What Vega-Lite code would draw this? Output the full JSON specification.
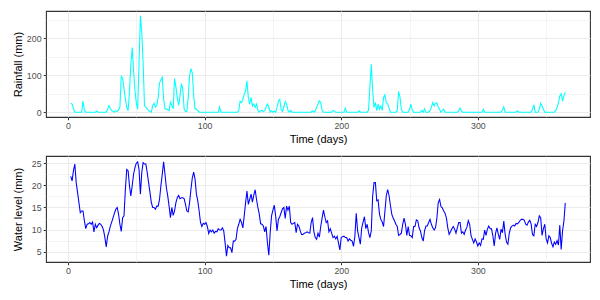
{
 "$schema": "https://vega.github.io/schema/vega-lite/v6.json",
 "padding": {"left": 11, "top": 10, "right": 5, "bottom": 5},
 "spacing": 39,
 "bounds": "flush",
 "config": {
  "view": {"stroke": "#333333", "strokeWidth": 1.1},
  "font": "Liberation Sans",
  "axis": {"domain": false, "tickColor": "#333333", "tickSize": 2.75, "labelFontSize": 8.8, "labelColor": "#4D4D4D", "labelPadding": 2.2, "titleFontSize": 11, "titleFontWeight": "normal", "titleColor": "#000000", "gridColor": "#EBEBEB", "labelOverlap": false, "labelFlush": false}
 },
 "data": {"values": [
{"day":2,"rain":24,"level":22.0},{"day":3,"rain":22,"level":21.0},{"day":4,"rain":10,"level":23.3},{"day":5,"rain":0,"level":24.8},{"day":6,"rain":0,"level":20.6},{"day":7,"rain":0,"level":18.4},{"day":8,"rain":0,"level":16.1},{"day":9,"rain":0,"level":13.8},{"day":10,"rain":0,"level":14.2},
{"day":11,"rain":30,"level":14.2},{"day":12,"rain":5,"level":12.0},{"day":13,"rain":0,"level":10.2},{"day":14,"rain":0,"level":11.2},{"day":15,"rain":0,"level":11.3},{"day":16,"rain":0,"level":11.6},{"day":17,"rain":0,"level":11.2},{"day":18,"rain":0,"level":11.7},{"day":19,"rain":0,"level":9.5},{"day":20,"rain":0,"level":11.2},
{"day":21,"rain":3,"level":10.4},{"day":22,"rain":0,"level":11.0},{"day":23,"rain":0,"level":11.4},{"day":24,"rain":0,"level":11.2},{"day":25,"rain":0,"level":10.7},{"day":26,"rain":0,"level":9.9},{"day":27,"rain":0,"level":8.2},{"day":28,"rain":0,"level":6.1},{"day":29,"rain":8,"level":8.5},{"day":30,"rain":18,"level":9.5},
{"day":31,"rain":10,"level":10.8},{"day":32,"rain":4,"level":11.7},{"day":33,"rain":2,"level":12.7},{"day":34,"rain":0,"level":13.7},{"day":35,"rain":4,"level":14.6},{"day":36,"rain":2,"level":15.0},{"day":37,"rain":6,"level":13.5},{"day":38,"rain":14,"level":11.2},{"day":39,"rain":97,"level":9.6},{"day":40,"rain":92,"level":12.7},
{"day":41,"rain":63,"level":13.1},{"day":42,"rain":36,"level":19.1},{"day":43,"rain":14,"level":23.6},{"day":44,"rain":4,"level":23.3},{"day":45,"rain":56,"level":19.9},{"day":46,"rain":130,"level":17.6},{"day":47,"rain":175,"level":19.9},{"day":48,"rain":114,"level":22.5},{"day":49,"rain":60,"level":24.0},{"day":50,"rain":25,"level":25.0},
{"day":51,"rain":8,"level":25.3},{"day":52,"rain":133,"level":23.6},{"day":53,"rain":261,"level":18.0},{"day":54,"rain":216,"level":22.9},{"day":55,"rain":133,"level":25.1},{"day":56,"rain":18,"level":24.8},{"day":57,"rain":14,"level":24.8},{"day":58,"rain":9,"level":22.9},{"day":59,"rain":4,"level":20.6},{"day":60,"rain":2,"level":18.4},
{"day":61,"rain":0,"level":16.1},{"day":62,"rain":18,"level":15.0},{"day":63,"rain":24,"level":15.0},{"day":64,"rain":14,"level":14.6},{"day":65,"rain":18,"level":15.3},{"day":66,"rain":40,"level":15.3},{"day":67,"rain":79,"level":16.8},{"day":68,"rain":88,"level":19.9},{"day":69,"rain":95,"level":22.5},{"day":70,"rain":36,"level":25.3},
{"day":71,"rain":9,"level":22.5},{"day":72,"rain":9,"level":19.5},{"day":73,"rain":7,"level":17.6},{"day":74,"rain":4,"level":15.3},{"day":75,"rain":27,"level":12.7},{"day":76,"rain":18,"level":15.0},{"day":77,"rain":9,"level":13.2},{"day":78,"rain":91,"level":14.2},{"day":79,"rain":68,"level":16.1},{"day":80,"rain":40,"level":17.2},
{"day":81,"rain":18,"level":17.7},{"day":82,"rain":45,"level":17.0},{"day":83,"rain":77,"level":17.2},{"day":84,"rain":63,"level":17.2},{"day":85,"rain":9,"level":17.0},{"day":86,"rain":2,"level":15.7},{"day":87,"rain":2,"level":14.2},{"day":88,"rain":40,"level":14.0},{"day":89,"rain":100,"level":16.1},{"day":90,"rain":118,"level":19.1},
{"day":91,"rain":106,"level":21.7},{"day":92,"rain":45,"level":23.0},{"day":93,"rain":9,"level":21.4},{"day":94,"rain":9,"level":18.0},{"day":95,"rain":4,"level":16.5},{"day":96,"rain":0,"level":14.2},{"day":97,"rain":0,"level":11.6},{"day":98,"rain":0,"level":10.7},{"day":99,"rain":0,"level":11.4},{"day":100,"rain":0,"level":11.2},
{"day":101,"rain":0,"level":11.6},{"day":102,"rain":0,"level":10.7},{"day":103,"rain":0,"level":9.1},{"day":104,"rain":0,"level":9.9},{"day":105,"rain":0,"level":9.5},{"day":106,"rain":0,"level":9.9},{"day":107,"rain":0,"level":9.2},{"day":108,"rain":0,"level":9.6},{"day":109,"rain":0,"level":9.5},{"day":110,"rain":0,"level":10.2},
{"day":111,"rain":14,"level":9.9},{"day":112,"rain":0,"level":9.9},{"day":113,"rain":0,"level":10.4},{"day":114,"rain":0,"level":9.7},{"day":115,"rain":0,"level":7.0},{"day":116,"rain":0,"level":4.0},{"day":117,"rain":0,"level":6.4},{"day":118,"rain":0,"level":5.9},{"day":119,"rain":0,"level":5.9},{"day":120,"rain":0,"level":4.8},
{"day":121,"rain":0,"level":7.4},{"day":122,"rain":0,"level":7.4},{"day":123,"rain":0,"level":7.8},{"day":124,"rain":0,"level":10.2},{"day":125,"rain":5,"level":11.2},{"day":126,"rain":30,"level":12.3},{"day":127,"rain":26,"level":11.6},{"day":128,"rain":35,"level":10.4},{"day":129,"rain":49,"level":13.1},{"day":130,"rain":58,"level":16.1},
{"day":131,"rain":85,"level":18.7},{"day":132,"rain":40,"level":15.7},{"day":133,"rain":22,"level":16.8},{"day":134,"rain":40,"level":18.0},{"day":135,"rain":17,"level":16.2},{"day":136,"rain":22,"level":17.8},{"day":137,"rain":13,"level":19.0},{"day":138,"rain":22,"level":16.8},{"day":139,"rain":5,"level":15.0},{"day":140,"rain":0,"level":13.5},
{"day":141,"rain":4,"level":11.3},{"day":142,"rain":5,"level":11.2},{"day":143,"rain":2,"level":10.8},{"day":144,"rain":4,"level":9.5},{"day":145,"rain":14,"level":10.7},{"day":146,"rain":22,"level":7.0},{"day":147,"rain":14,"level":4.2},{"day":148,"rain":0,"level":9.3},{"day":149,"rain":4,"level":13.1},{"day":150,"rain":0,"level":14.4},
{"day":151,"rain":3,"level":15.5},{"day":152,"rain":0,"level":13.1},{"day":153,"rain":13,"level":9.7},{"day":154,"rain":30,"level":12.3},{"day":155,"rain":35,"level":12.9},{"day":156,"rain":8,"level":13.8},{"day":157,"rain":2,"level":14.7},{"day":158,"rain":14,"level":15.0},{"day":159,"rain":29,"level":12.5},{"day":160,"rain":22,"level":15.3},
{"day":161,"rain":5,"level":14.4},{"day":162,"rain":0,"level":15.3},{"day":163,"rain":5,"level":11.6},{"day":164,"rain":0,"level":11.2},{"day":165,"rain":0,"level":11.4},{"day":166,"rain":0,"level":11.6},{"day":167,"rain":0,"level":9.3},{"day":168,"rain":0,"level":11.2},{"day":169,"rain":0,"level":10.8},{"day":170,"rain":0,"level":9.7},
{"day":171,"rain":0,"level":8.9},{"day":172,"rain":0,"level":8.9},{"day":173,"rain":0,"level":9.2},{"day":174,"rain":0,"level":9.3},{"day":175,"rain":0,"level":9.5},{"day":176,"rain":0,"level":9.3},{"day":177,"rain":0,"level":9.2},{"day":178,"rain":0,"level":11.6},{"day":179,"rain":4,"level":12.7},{"day":180,"rain":0,"level":9.5},
{"day":181,"rain":4,"level":8.2},{"day":182,"rain":13,"level":7.8},{"day":183,"rain":22,"level":9.2},{"day":184,"rain":31,"level":8.3},{"day":185,"rain":26,"level":10.7},{"day":186,"rain":5,"level":12.6},{"day":187,"rain":0,"level":14.4},{"day":188,"rain":0,"level":12.9},{"day":189,"rain":0,"level":11.6},{"day":190,"rain":0,"level":12.0},
{"day":191,"rain":0,"level":9.5},{"day":192,"rain":0,"level":10.2},{"day":193,"rain":0,"level":9.2},{"day":194,"rain":5,"level":8.2},{"day":195,"rain":3,"level":8.5},{"day":196,"rain":0,"level":7.9},{"day":197,"rain":0,"level":8.5},{"day":198,"rain":0,"level":7.0},{"day":199,"rain":0,"level":5.4},{"day":200,"rain":0,"level":8.2},
{"day":201,"rain":0,"level":8.4},{"day":202,"rain":0,"level":8.5},{"day":203,"rain":11,"level":8.2},{"day":204,"rain":0,"level":8.2},{"day":205,"rain":0,"level":7.4},{"day":206,"rain":0,"level":7.9},{"day":207,"rain":0,"level":7.6},{"day":208,"rain":0,"level":7.4},{"day":209,"rain":0,"level":6.2},{"day":210,"rain":0,"level":8.5},
{"day":211,"rain":0,"level":13.7},{"day":212,"rain":0,"level":9.7},{"day":213,"rain":4,"level":8.2},{"day":214,"rain":0,"level":6.7},{"day":215,"rain":0,"level":10.4},{"day":216,"rain":0,"level":11.7},{"day":217,"rain":0,"level":12.9},{"day":218,"rain":0,"level":10.2},{"day":219,"rain":0,"level":11.2},{"day":220,"rain":5,"level":9.3},
{"day":221,"rain":71,"level":8.2},{"day":222,"rain":130,"level":9.7},{"day":223,"rain":58,"level":17.6},{"day":224,"rain":13,"level":20.6},{"day":225,"rain":26,"level":20.6},{"day":226,"rain":4,"level":16.5},{"day":227,"rain":22,"level":16.7},{"day":228,"rain":8,"level":13.5},{"day":229,"rain":17,"level":12.3},{"day":230,"rain":5,"level":11.7},
{"day":231,"rain":40,"level":10.7},{"day":232,"rain":47,"level":14.2},{"day":233,"rain":26,"level":17.7},{"day":234,"rain":22,"level":19.0},{"day":235,"rain":11,"level":17.7},{"day":236,"rain":0,"level":15.5},{"day":237,"rain":0,"level":13.5},{"day":238,"rain":0,"level":12.6},{"day":239,"rain":0,"level":12.0},{"day":240,"rain":0,"level":11.2},
{"day":241,"rain":4,"level":10.7},{"day":242,"rain":56,"level":8.7},{"day":243,"rain":41,"level":8.9},{"day":244,"rain":8,"level":9.2},{"day":245,"rain":0,"level":11.2},{"day":246,"rain":0,"level":12.6},{"day":247,"rain":0,"level":11.2},{"day":248,"rain":0,"level":8.7},{"day":249,"rain":0,"level":10.7},{"day":250,"rain":8,"level":8.7},
{"day":251,"rain":22,"level":8.6},{"day":252,"rain":5,"level":8.2},{"day":253,"rain":0,"level":10.7},{"day":254,"rain":0,"level":10.7},{"day":255,"rain":0,"level":12.2},{"day":256,"rain":0,"level":12.0},{"day":257,"rain":0,"level":10.4},{"day":258,"rain":0,"level":9.7},{"day":259,"rain":5,"level":8.2},{"day":260,"rain":0,"level":7.4},
{"day":261,"rain":9,"level":9.7},{"day":262,"rain":0,"level":10.8},{"day":263,"rain":0,"level":10.8},{"day":264,"rain":0,"level":11.6},{"day":265,"rain":4,"level":12.3},{"day":266,"rain":13,"level":11.2},{"day":267,"rain":26,"level":10.4},{"day":268,"rain":17,"level":9.9},{"day":269,"rain":24,"level":10.4},{"day":270,"rain":25,"level":12.5},
{"day":271,"rain":14,"level":16.1},{"day":272,"rain":8,"level":16.8},{"day":273,"rain":0,"level":15.2},{"day":274,"rain":4,"level":14.9},{"day":275,"rain":8,"level":14.2},{"day":276,"rain":0,"level":13.7},{"day":277,"rain":0,"level":12.6},{"day":278,"rain":0,"level":10.4},{"day":279,"rain":0,"level":8.9},{"day":280,"rain":0,"level":9.5},
{"day":281,"rain":0,"level":10.2},{"day":282,"rain":0,"level":10.7},{"day":283,"rain":0,"level":10.1},{"day":284,"rain":0,"level":9.2},{"day":285,"rain":0,"level":10.4},{"day":286,"rain":5,"level":11.6},{"day":287,"rain":11,"level":11.6},{"day":288,"rain":3,"level":9.2},{"day":289,"rain":0,"level":9.5},{"day":290,"rain":0,"level":8.9},
{"day":291,"rain":0,"level":9.9},{"day":292,"rain":0,"level":10.5},{"day":293,"rain":0,"level":12.0},{"day":294,"rain":0,"level":11.2},{"day":295,"rain":0,"level":8.7},{"day":296,"rain":0,"level":7.8},{"day":297,"rain":0,"level":7.0},{"day":298,"rain":0,"level":7.9},{"day":299,"rain":0,"level":7.2},{"day":300,"rain":0,"level":6.3},
{"day":301,"rain":0,"level":7.0},{"day":302,"rain":0,"level":6.4},{"day":303,"rain":0,"level":7.9},{"day":304,"rain":8,"level":7.8},{"day":305,"rain":0,"level":9.9},{"day":306,"rain":0,"level":8.7},{"day":307,"rain":0,"level":10.1},{"day":308,"rain":0,"level":10.8},{"day":309,"rain":0,"level":10.2},{"day":310,"rain":0,"level":10.2},
{"day":311,"rain":0,"level":8.6},{"day":312,"rain":0,"level":6.3},{"day":313,"rain":0,"level":9.2},{"day":314,"rain":0,"level":10.4},{"day":315,"rain":0,"level":8.9},{"day":316,"rain":0,"level":7.8},{"day":317,"rain":0,"level":10.1},{"day":318,"rain":5,"level":9.3},{"day":319,"rain":14,"level":11.9},{"day":320,"rain":0,"level":8.9},
{"day":321,"rain":0,"level":7.2},{"day":322,"rain":0,"level":6.7},{"day":323,"rain":0,"level":9.2},{"day":324,"rain":0,"level":10.4},{"day":325,"rain":0,"level":10.8},{"day":326,"rain":0,"level":11.0},{"day":327,"rain":0,"level":10.8},{"day":328,"rain":0,"level":11.4},{"day":329,"rain":4,"level":11.3},{"day":330,"rain":0,"level":11.6},
{"day":331,"rain":0,"level":12.1},{"day":332,"rain":0,"level":12.3},{"day":333,"rain":0,"level":12.3},{"day":334,"rain":0,"level":12.1},{"day":335,"rain":0,"level":11.2},{"day":336,"rain":0,"level":11.0},{"day":337,"rain":0,"level":11.7},{"day":338,"rain":0,"level":12.1},{"day":339,"rain":0,"level":11.3},{"day":340,"rain":8,"level":8.9},
{"day":341,"rain":20,"level":8.6},{"day":342,"rain":0,"level":11.2},{"day":343,"rain":0,"level":10.7},{"day":344,"rain":0,"level":11.6},{"day":345,"rain":8,"level":13.1},{"day":346,"rain":24,"level":12.7},{"day":347,"rain":17,"level":8.7},{"day":348,"rain":8,"level":10.2},{"day":349,"rain":0,"level":11.2},{"day":350,"rain":0,"level":7.9},
{"day":351,"rain":0,"level":7.0},{"day":352,"rain":0,"level":8.6},{"day":353,"rain":0,"level":8.2},{"day":354,"rain":0,"level":6.9},{"day":355,"rain":0,"level":6.1},{"day":356,"rain":0,"level":7.2},{"day":357,"rain":4,"level":6.7},{"day":358,"rain":13,"level":7.5},{"day":359,"rain":26,"level":6.5},{"day":360,"rain":44,"level":11.0},
{"day":361,"rain":50,"level":5.5},{"day":362,"rain":30,"level":9.7},{"day":363,"rain":45,"level":11.9},{"day":364,"rain":54,"level":16.0}
 ]},
 "vconcat": [
  {
   "width": 544, "height": 106,
   "mark": {"type": "line", "color": "#00FFFF", "strokeWidth": 1.07, "clip": true},
   "encoding": {
    "x": {"field": "day", "type": "quantitative", "scale": {"domain": [-16.1, 382.1], "nice": false, "zero": false},
     "axis": {"title": "Time (days)", "values": [0, 50, 100, 150, 200, 250, 300, 350],
      "labelExpr": "datum.value % 100 === 0 ? datum.label : ''",
      "tickOpacity": {"condition": {"test": "datum.value % 100 !== 0", "value": 0}, "value": 1},
      "gridWidth": {"condition": {"test": "datum.value % 100 !== 0", "value": 0.55}, "value": 1.07},
      "titleY": 22, "titleBaseline": "middle"}},
    "y": {"field": "rain", "type": "quantitative", "scale": {"domain": [-13.05, 274.05], "nice": false, "zero": false},
     "axis": {"title": "Rainfall (mm)", "values": [0, 50, 100, 150, 200, 250],
      "labelExpr": "datum.value % 100 === 0 ? datum.label : ''",
      "tickOpacity": {"condition": {"test": "datum.value % 100 !== 0", "value": 0}, "value": 1},
      "gridWidth": {"condition": {"test": "datum.value % 100 !== 0", "value": 0.55}, "value": 1.07},
      "titleX": -28, "titleY": 53, "titleAngle": -90, "titleBaseline": "middle", "titleAlign": "center"}}
   }
  },
  {
   "width": 544, "height": 106,
   "mark": {"type": "line", "color": "#0000FF", "strokeWidth": 1.07, "clip": true},
   "encoding": {
    "x": {"field": "day", "type": "quantitative", "scale": {"domain": [-16.1, 382.1], "nice": false, "zero": false},
     "axis": {"title": "Time (days)", "values": [0, 50, 100, 150, 200, 250, 300, 350],
      "labelExpr": "datum.value % 100 === 0 ? datum.label : ''",
      "tickOpacity": {"condition": {"test": "datum.value % 100 !== 0", "value": 0}, "value": 1},
      "gridWidth": {"condition": {"test": "datum.value % 100 !== 0", "value": 0.55}, "value": 1.07},
      "titleY": 22, "titleBaseline": "middle"}},
    "y": {"field": "level", "type": "quantitative", "scale": {"domain": [2.68, 26.62], "nice": false, "zero": false},
     "axis": {"title": "Water level (mm)", "values": [5, 7.5, 10, 12.5, 15, 17.5, 20, 22.5, 25],
      "labelExpr": "datum.value % 5 === 0 ? datum.label : ''",
      "tickOpacity": {"condition": {"test": "datum.value % 5 !== 0", "value": 0}, "value": 1},
      "gridWidth": {"condition": {"test": "datum.value % 5 !== 0", "value": 0.55}, "value": 1.07},
      "titleX": -28, "titleY": 53, "titleAngle": -90, "titleBaseline": "middle", "titleAlign": "center"}}
   }
  }
 ]
}
